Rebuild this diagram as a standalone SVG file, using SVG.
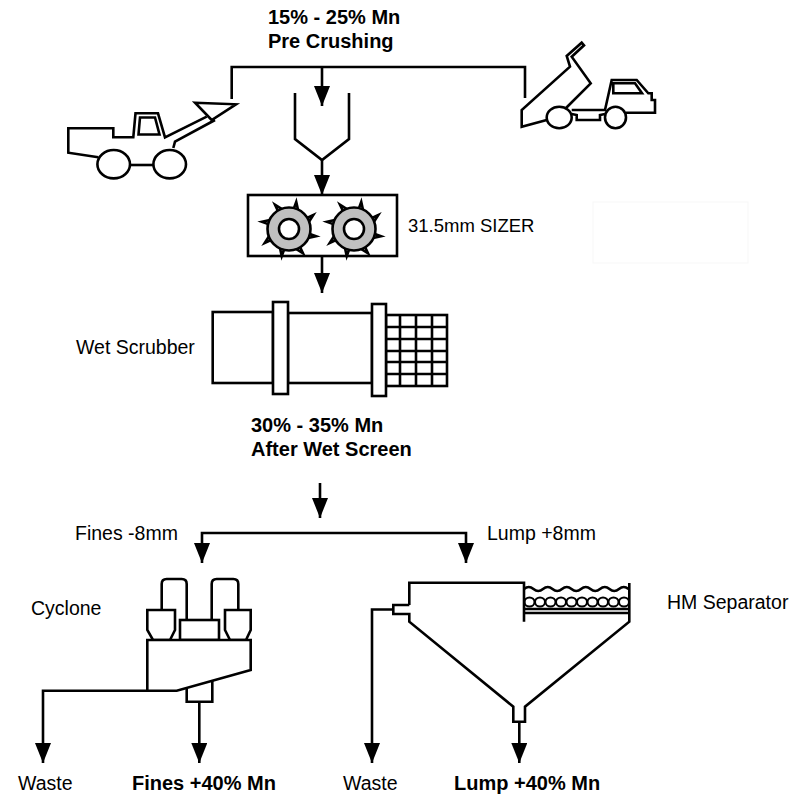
<svg xmlns="http://www.w3.org/2000/svg" width="808" height="796" viewBox="0 0 808 796">
<style>
.ln{fill:none;stroke:#000;stroke-width:2.6;stroke-linejoin:miter}
.sh{fill:#fff;stroke:#000;stroke-width:2.6}
.t{font-family:"Liberation Sans",Arial,sans-serif;font-size:19.5px;fill:#000}
.b{font-family:"Liberation Sans",Arial,sans-serif;font-size:20px;font-weight:bold;fill:#000}
</style>
<defs>
<marker id="ar" viewBox="0 0 20 16" refX="20" refY="8" markerWidth="20" markerHeight="16" markerUnits="userSpaceOnUse" orient="auto">
<path d="M0,0 L20,8 L0,16 Z" fill="#000"/>
</marker>
<g id="gear">
<polygon class="sh" stroke-width="2.2" points="13.79,2.43 27.05,7.25 8.03,11.47 14,24.25 -2.43,13.79 -7.25,27.05 -11.47,8.03 -24.25,14 -13.79,-2.43 -27.05,-7.25 -8.03,-11.47 -14,-24.25 2.43,-13.79 7.25,-27.05 11.47,-8.03 24.25,-14"/>
<circle r="21.5" fill="#c0c0c0" stroke="#000" stroke-width="2.6"/>
<circle r="10" fill="#fff" stroke="#000" stroke-width="2.6"/>
</g>
</defs>
<rect width="808" height="796" fill="#fff"/>

<g id="title-top">
<text class="b" x="268" y="24">15% - 25% Mn</text>
<text class="b" x="268" y="48">Pre Crushing</text>
</g>

<g id="loader">
<path class="ln" d="M98.3,157.3 L68.3,152.7 V128.3 H113.3 V137.3 H133.3 L135.5,113.3 H158 L165,137.3 L206.7,116.7"/>
<path class="ln" d="M138.5,134.5 L140,117.5 H155 L159.5,134.5 Z"/>
<path class="ln" d="M173.3,148 L175,141.7 L215,120"/>
<path class="ln" d="M195,102.7 L236,104.3 L211.7,120 Z"/>
<ellipse class="sh" cx="113.7" cy="164.2" rx="16.3" ry="14.2"/>
<ellipse class="sh" cx="169.7" cy="164.2" rx="16.3" ry="14.2"/>
<path class="ln" d="M130,165 H153.4"/>
</g>

<g id="truck">
<path class="ln" d="M546.7,120 L521.7,126.7 V110 L570,66.7 L566.7,56 L581.7,42.7 L584,45.3 L571.7,56.7 L590.7,83.3 L566,108"/>
<path class="ln" d="M571.7,110 H605 L611.7,80 H636.7 L648.3,93.3 H651.7 V100 H655 V112.7 H626"/>
<path class="ln" d="M613.3,83.3 H635 L642,93.3 H613.3 Z"/>
<path class="ln" d="M571.7,114 L576.7,115 V120 H600 V115 L605,114"/>
<ellipse class="sh" cx="559.2" cy="117.5" rx="12.5" ry="10.8"/>
<ellipse class="sh" cx="615.5" cy="117.5" rx="10.5" ry="10.8"/>
</g>

<g id="hopper">
<path class="ln" d="M295,93 V139 L322,160 L349,139 V93"/>
</g>

<g id="sizer">
<rect class="sh" x="248" y="195" width="149" height="61"/>
<use href="#gear" x="289" y="229"/>
<use href="#gear" x="354" y="229"/>
<text class="t" x="408" y="232" style="font-size:18.5px">31.5mm SIZER</text>
</g>

<rect x="593" y="202" width="155" height="61" fill="none" stroke="#f7f7f7" stroke-width="1"/>

<g id="scrubber">
<rect class="sh" x="212.7" y="312" width="60.3" height="71"/>
<rect class="sh" x="288" y="313" width="84" height="70"/>
<rect class="sh" x="386" y="315" width="61" height="71"/>
<path class="ln" d="M400,315 V386 M416,315 V386 M432,315 V386 M386,327 H447 M386,339 H447 M386,351 H447 M386,362 H447 M386,374 H447" stroke-width="2"/>
<rect class="sh" x="273" y="302" width="15" height="92"/>
<rect class="sh" x="372" y="304" width="14" height="92"/>
<text class="t" x="76" y="354">Wet Scrubber</text>
</g>

<g id="title-mid">
<text class="b" x="251" y="432">30% - 35% Mn</text>
<text class="b" x="251" y="456">After Wet Screen</text>
</g>

<g id="cyclone">
<path class="ln" d="M161.7,610 V584 Q161.7,579 166.7,579 H181.7 Q186.7,579 186.7,584 V620"/>
<path class="ln" d="M211.7,620 V584 Q211.7,579 216.7,579 H233.3 Q238.3,579 238.3,584 V610"/>
<path class="sh" d="M147.3,610 H175 V630 L170,640 H153 L147.3,630 Z"/>
<path class="sh" d="M225,610 H250.7 V630 L246,640 H230 L225,630 Z"/>
<rect class="sh" x="180" y="620" width="39" height="20"/>
<path class="sh" d="M147.3,640 H250.7 V670 L176.7,690.7 H147.3 Z"/>
<path class="ln" d="M186.7,687.9 V701.7 H212.3 V680.7"/>
<text class="t" x="31" y="615">Cyclone</text>
</g>

<g id="hm-separator">
<path class="ln" d="M409.3,605 V582.7 H524 V621.7"/>
<path class="ln" d="M409.3,605 H393.3 V614 H409.3 V621.7 L513.3,706.7 V721.7 H525 V706.7 L629.3,621.7 V583"/>
<path class="ln" d="M524,589 q4.75,-4 9.5,0 t9.5,0 t9.5,0 t9.5,0 t9.5,0 t9.5,0 t9.5,0 t9.5,0 t9.5,0 t9.5,0 t9.5,0" stroke-width="2"/>
<g fill="none" stroke="#000" stroke-width="2">
<ellipse cx="529.5" cy="602" rx="5" ry="4.5"/>
<ellipse cx="540" cy="602" rx="5" ry="4.5"/>
<ellipse cx="550.5" cy="602" rx="5" ry="4.5"/>
<ellipse cx="561" cy="602" rx="5" ry="4.5"/>
<ellipse cx="571.5" cy="602" rx="5" ry="4.5"/>
<ellipse cx="582" cy="602" rx="5" ry="4.5"/>
<ellipse cx="592.5" cy="602" rx="5" ry="4.5"/>
<ellipse cx="603" cy="602" rx="5" ry="4.5"/>
<ellipse cx="613.5" cy="602" rx="5" ry="4.5"/>
<ellipse cx="624" cy="602" rx="5" ry="4.5"/>
</g>
<path class="ln" d="M524,609 H629.3 M524,613 H629.3" stroke-width="2"/>
<text class="t" x="667" y="609">HM Separator</text>
</g>

<g id="connectors">
<path class="ln" d="M231.7,99 V67 H525 V98"/>
<path class="ln" d="M322,67 V106" marker-end="url(#ar)"/>
<path class="ln" d="M322,160 V195" marker-end="url(#ar)"/>
<path class="ln" d="M322,256 V293" marker-end="url(#ar)"/>
<path class="ln" d="M320,483 V518" marker-end="url(#ar)"/>
<path class="ln" d="M320,533 H202 V563" marker-end="url(#ar)"/>
<path class="ln" d="M320,533 H466 V563" marker-end="url(#ar)"/>
<path class="ln" d="M147.3,690.7 H43 V763" marker-end="url(#ar)"/>
<path class="ln" d="M199.3,701.7 V763" marker-end="url(#ar)"/>
<path class="ln" d="M393.3,609.5 H372 V763" marker-end="url(#ar)"/>
<path class="ln" d="M519.3,721.7 V763" marker-end="url(#ar)"/>
</g>

<g id="labels">
<text class="t" x="75" y="540">Fines -8mm</text>
<text class="t" x="487" y="540">Lump +8mm</text>
<text class="t" x="18" y="790">Waste</text>
<text class="b" x="132" y="790">Fines +40% Mn</text>
<text class="t" x="343" y="790">Waste</text>
<text class="b" x="454" y="790">Lump +40% Mn</text>
</g>
</svg>
